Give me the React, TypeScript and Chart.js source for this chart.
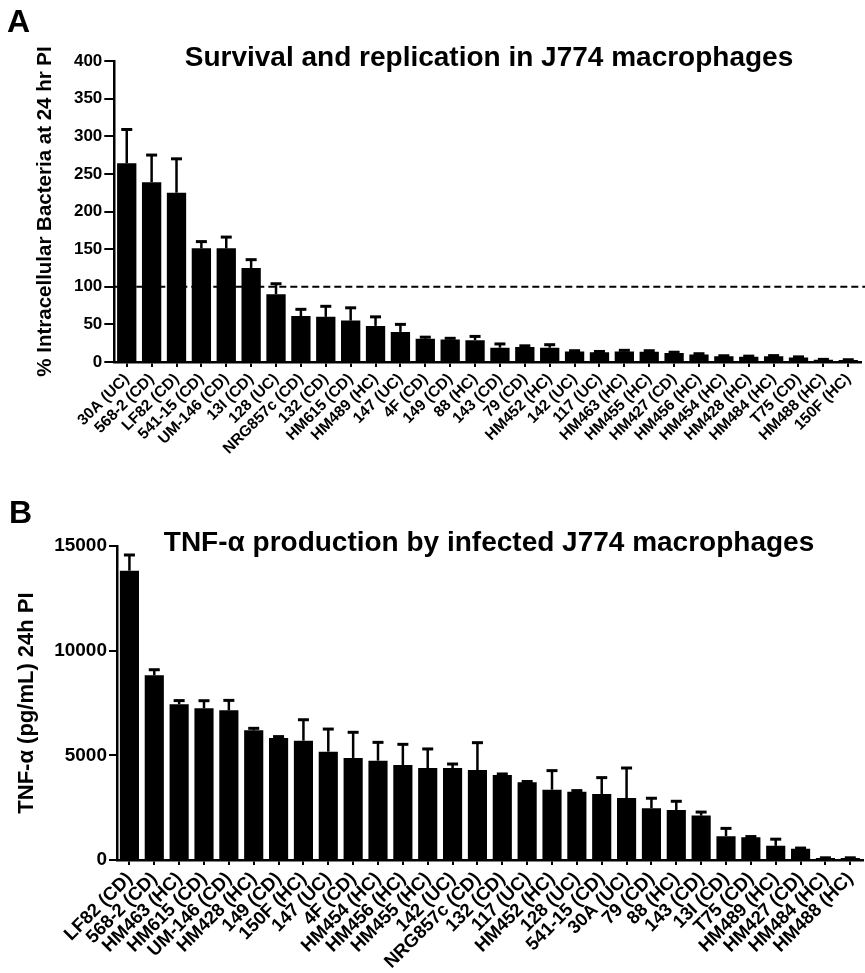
import React, { useEffect, useRef } from "react";
import { Chart, registerables } from "chart.js";

Chart.register(...registerables);

// ---------- Panel A data ----------
const labelsA = [
  "30A (UC)", "568-2 (CD)", "LF82 (CD)", "541-15 (CD)", "UM-146 (CD)", "13I (CD)",
  "128 (UC)", "NRG857c (CD)", "132 (CD)", "HM615 (CD)", "HM489 (HC)", "147 (UC)",
  "4F (CD)", "149 (CD)", "88 (HC)", "143 (CD)", "79 (CD)", "HM452 (HC)",
  "142 (UC)", "117 (UC)", "HM463 (HC)", "HM455 (HC)", "HM427 (CD)", "HM456 (HC)",
  "HM454 (HC)", "HM428 (HC)", "HM484 (HC)", "T75 (CD)", "HM488 (HC)", "150F (HC)",
];
const valuesA = [
  264, 239, 225, 151, 151, 125,
  90, 61, 60, 55, 48, 40,
  31, 30, 29, 19, 20, 19,
  14, 13, 14, 13.5, 12, 10,
  7.5, 7, 7.5, 6, 3, 2.5,
];
const errorsA = [
  45, 36, 45, 9, 15, 11,
  14, 9, 14, 17, 12, 10,
  2, 1.5, 5, 5, 1.5, 4,
  1, 1, 1.5, 1.5, 1, 1,
  0.8, 0.8, 1, 0.8, 0.5, 0.5,
];
const thresholdA = 100;
const yMinA = 0;
const yMaxA = 400;
const yStepA = 50;
const titleA = "Survival and replication in J774 macrophages";
const yTitleA = "% Intracellular Bacteria at 24 hr PI";
const letterA = "A";

// ---------- Panel B data ----------
const labelsB = [
  "LF82 (CD)", "568-2 (CD)", "HM463 (HC)", "HM615 (CD)", "UM-146 (CD)", "HM428 (HC)",
  "149 (CD)", "150F (HC)", "147 (UC)", "4F (CD)", "HM454 (HC)", "HM456 (HC)",
  "HM455 (HC)", "142 (UC)", "NRG857c (CD)", "132 (CD)", "117 (UC)", "HM452 (HC)",
  "128 (UC)", "541-15 (CD)", "30A (UC)", "79 (CD)", "88 (HC)", "143 (CD)",
  "13I (CD)", "T75 (CD)", "HM489 (HC)", "HM427 (CD)", "HM484 (HC)", "HM488 (HC)",
];
const valuesB = [
  13820, 8820, 7440, 7245, 7150, 6195,
  5830, 5700, 5175, 4875, 4745, 4540,
  4395, 4395, 4300, 4060, 3710, 3360,
  3265, 3155, 2960, 2470, 2390, 2120,
  1140, 1090, 675, 540, 95, 95,
];
const errorsB = [
  750, 270, 175, 365, 475, 95,
  65, 1000, 1080, 1225, 875, 985,
  910, 190, 1305, 50, 40, 910,
  50, 780, 1435, 480, 415, 170,
  370, 30, 320, 30, 10, 10,
];
const yMinB = 0;
const yMaxB = 15000;
const yStepB = 5000;
const titleB = "TNF-α production by infected J774 macrophages";
const yTitleB = "TNF-α (pg/mL) 24h PI";
const letterB = "B";

const FONT = "'Liberation Sans', Arial, Helvetica, sans-serif";

function errorBarPlugin(errors: number[]) {
  return {
    id: "errorBars",
    afterDatasetsDraw(chart: any) {
      const meta = chart.getDatasetMeta(0);
      const data = chart.data.datasets[0].data as number[];
      const y = chart.scales.y;
      const ctx = chart.ctx;
      ctx.save();
      ctx.strokeStyle = "#000";
      meta.data.forEach((bar: any, i: number) => {
        const top = y.getPixelForValue(data[i] + errors[i]);
        ctx.lineWidth = 2.5;
        ctx.beginPath();
        ctx.moveTo(bar.x, bar.y);
        ctx.lineTo(bar.x, top);
        ctx.stroke();
        ctx.lineWidth = 3;
        ctx.beginPath();
        ctx.moveTo(bar.x - 5.5, top);
        ctx.lineTo(bar.x + 5.5, top);
        ctx.stroke();
      });
      ctx.restore();
    },
  };
}

function thresholdPlugin(value: number) {
  return {
    id: "threshold",
    beforeDatasetsDraw(chart: any) {
      const y = chart.scales.y.getPixelForValue(value);
      const ctx = chart.ctx;
      ctx.save();
      ctx.strokeStyle = "#000";
      ctx.lineWidth = 2;
      ctx.setLineDash([7, 4]);
      ctx.beginPath();
      ctx.moveTo(chart.chartArea.left, y);
      ctx.lineTo(chart.width, y);
      ctx.stroke();
      ctx.restore();
    },
  };
}

function headingPlugin(letter: string, letterX: number, letterY: number, letterSize: number, title: string, titleX: number, titleY: number, titleSize: number) {
  return {
    id: "heading",
    afterDraw(chart: any) {
      const ctx = chart.ctx;
      ctx.save();
      ctx.fillStyle = "#000";
      ctx.textBaseline = "middle";
      ctx.textAlign = "left";
      ctx.font = `bold ${letterSize}px ${FONT}`;
      ctx.fillText(letter, letterX, letterY);
      ctx.textAlign = "center";
      ctx.font = `bold ${titleSize}px ${FONT}`;
      ctx.fillText(title, titleX, titleY);
      ctx.restore();
    },
  };
}

function makeConfig(p: any) {
  return {
    type: "bar",
    data: {
      labels: p.labels,
      datasets: [
        {
          data: p.values,
          backgroundColor: "#000",
          borderWidth: 0,
          barPercentage: p.barPct,
          categoryPercentage: 1,
        },
      ],
    },
    options: {
      responsive: false,
      animation: false,
      layout: { padding: { top: p.top, right: p.right, left: 0, bottom: 0 } },
      plugins: {
        legend: { display: false },
        tooltip: { enabled: false },
        title: { display: false },
      },
      scales: {
        x: {
          offset: true,
          grid: {
            display: true,
            drawOnChartArea: false,
            drawTicks: true,
            tickLength: 5,
            offset: false,
            color: "#000",
            lineWidth: 2,
          },
          border: { display: true, color: "#000", width: 2.5 },
          ticks: {
            autoSkip: false,
            maxRotation: 45,
            minRotation: 45,
            padding: 3,
            color: "#000",
            font: { family: FONT, size: p.xFont, weight: "bold" },
          },
          afterFit: (s: any) => {
            s.height = p.xHeight;
          },
        },
        y: {
          min: p.yMin,
          max: p.yMax,
          ticks: {
            stepSize: p.yStep,
            color: "#000",
            padding: p.yTickPad,
            font: { family: FONT, size: p.yFont, weight: "bold" },
            callback: (v: any) => String(v),
          },
          grid: {
            display: true,
            drawOnChartArea: false,
            drawTicks: true,
            tickLength: p.yTickLen,
            color: "#000",
            lineWidth: 2,
          },
          border: { display: true, color: "#000", width: 2.5 },
          title: {
            display: true,
            text: p.yTitle,
            color: "#000",
            font: { family: FONT, size: p.yTitleFont, weight: "bold" },
            padding: { top: p.yTitlePad, bottom: 0 },
          },
          afterFit: (s: any) => {
            s.width = p.yWidth;
          },
        },
      },
    },
    plugins: p.plugins,
  };
}

function Panel({ width, height, config }: { width: number; height: number; config: any }) {
  const ref = useRef<HTMLCanvasElement | null>(null);
  useEffect(() => {
    if (!ref.current) return;
    const chart = new Chart(ref.current, config);
    return () => chart.destroy();
  }, []);
  return <canvas ref={ref} width={width} height={height} style={{ display: "block", width, height }} />;
}

const configA = makeConfig({
  labels: labelsA,
  values: valuesA,
  barPct: 0.776,
  top: 61,
  right: 4.3,
  xFont: 15.5,
  xHeight: 98,
  yMin: yMinA,
  yMax: yMaxA,
  yStep: yStepA,
  yFont: 17,
  yTickPad: 2,
  yTickLen: 10,
  yTitle: yTitleA,
  yTitleFont: 20.5,
  yTitlePad: 32.7,
  yWidth: 114.3,
  plugins: [
    thresholdPlugin(thresholdA),
    errorBarPlugin(errorsA),
    headingPlugin(letterA, 7, 23, 32, titleA, 489, 58, 28),
  ],
});

const configB = makeConfig({
  labels: labelsB,
  values: valuesB,
  barPct: 0.77,
  top: 86,
  right: 0.6,
  xFont: 18.5,
  xHeight: 113,
  yMin: yMinB,
  yMax: yMaxB,
  yStep: yStepB,
  yFont: 19,
  yTickPad: 2,
  yTickLen: 8,
  yTitle: yTitleB,
  yTitleFont: 22,
  yTitlePad: 13.3,
  yWidth: 117,
  plugins: [errorBarPlugin(errorsB), headingPlugin(letterB, 9, 54, 32, titleB, 489, 83.5, 28)],
});

export default function App() {
  return (
    <div
      style={{
        position: "fixed",
        left: 0,
        top: 0,
        width: 865,
        height: 973,
        overflow: "hidden",
        background: "#fff",
      }}
    >
      <div style={{ position: "absolute", left: 0, top: 0 }}>
        <Panel width={865} height={460} config={configA} />
      </div>
      <div style={{ position: "absolute", left: 0, top: 460 }}>
        <Panel width={869} height={513} config={configB} />
      </div>
    </div>
  );
}
